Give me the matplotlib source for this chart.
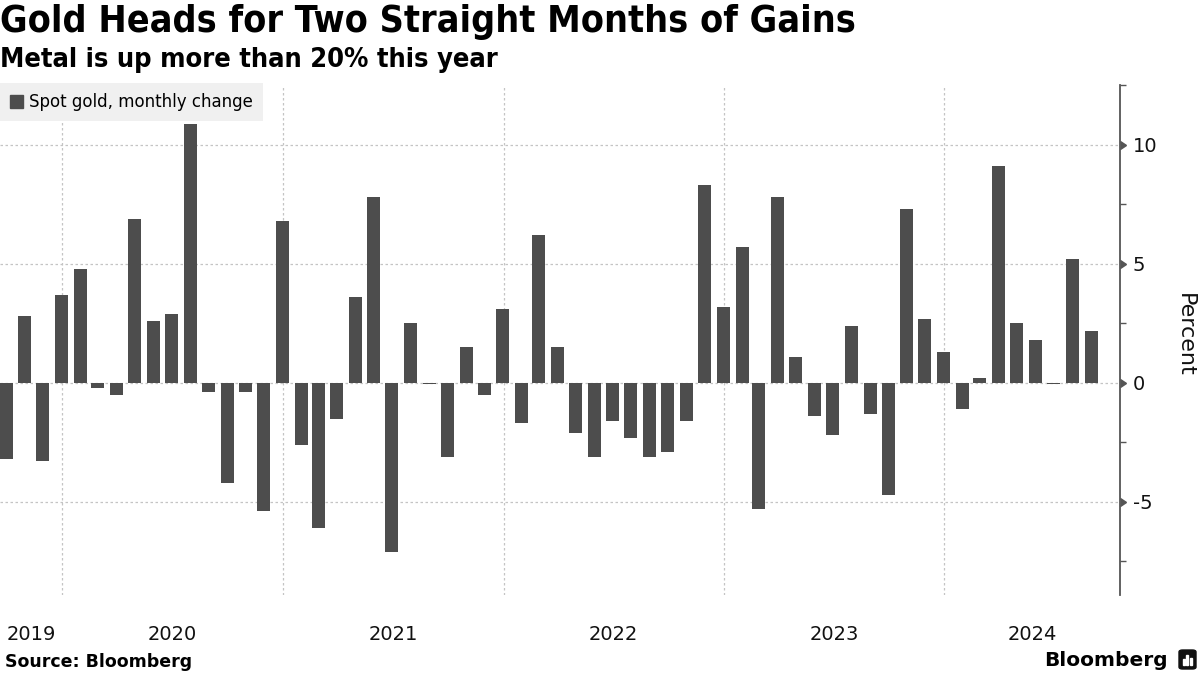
import numpy as np
import pandas as pd
import matplotlib
matplotlib.use("Agg")
import matplotlib.pyplot as plt
import matplotlib.dates as mdates
import matplotlib.transforms as mtransforms
from matplotlib.patches import Rectangle, FancyBboxPatch

# monthly change of spot gold, Sep 2019 .. Aug 2024 (percent)
months = pd.date_range("2019-09-30", "2024-08-31", freq="ME")
change = [
    -3.2, 2.8, -3.3, 3.7,
    4.8, -0.2, -0.5, 6.9, 2.6, 2.9, 10.9, -0.4, -4.2, -0.4, -5.4, 6.8,
    -2.6, -6.1, -1.5, 3.6, 7.8, -7.1, 2.5, -0.05, -3.1, 1.5, -0.5, 3.1,
    -1.7, 6.2, 1.5, -2.1, -3.1, -1.6, -2.3, -3.1, -2.9, -1.6, 8.3, 3.2,
    5.7, -5.3, 7.8, 1.1, -1.4, -2.2, 2.4, -1.3, -4.7, 7.3, 2.7, 1.3,
    -1.1, 0.2, 9.1, 2.5, 1.8, -0.03, 5.2, 2.2,
]
years = [2019, 2020, 2021, 2022, 2023, 2024]
yticks = [-5, 0, 5, 10]

bar_color = "#4d4d4d"
grid_color = "#c4c4c4"
axis_color = "#555555"

fig = plt.figure(figsize=(12, 6.75), dpi=100)
ax = fig.add_axes([0, 1 - 595 / 675, 1120 / 1200, 510 / 675])

x = mdates.date2num(months)
ax.bar(x, change, width=21.5, color=bar_color, zorder=2)

x0 = mdates.date2num(pd.Timestamp("2019-09-20"))
x1 = mdates.date2num(pd.Timestamp("2024-10-18"))
ax.set_xlim(x0, x1)
ax.set_ylim(-8.91, 12.52)

# grid
for y in yticks:
    ax.axhline(y, color=grid_color, lw=0.9, ls=(0, (2, 2)), zorder=1)
for yr in years[1:]:
    ax.axvline(mdates.date2num(pd.Timestamp(f"{yr}-01-01")), color=grid_color,
               lw=0.9, ls=(0, (2, 2)), zorder=1)

for s in ["top", "left", "bottom"]:
    ax.spines[s].set_visible(False)
ax.spines["right"].set_color(axis_color)
ax.spines["right"].set_linewidth(1.3)

ax.set_xticks([])
ax.yaxis.tick_right()
ax.set_yticks(yticks)
ax.set_yticklabels([str(t) for t in yticks])
ax.set_yticks([-7.5, -2.5, 2.5, 7.5, 12.5], minor=True)
ax.tick_params(axis="y", which="major", length=0, pad=9, labelsize=14, labelcolor="#111111")
ax.tick_params(axis="y", which="minor", length=4, width=1, color=axis_color, direction="out")

# caret tick marks on the spine
trans = mtransforms.blended_transform_factory(ax.transAxes, ax.transData)
ax.plot([1] * len(yticks), yticks, ls="none", marker=9, ms=6, color=axis_color,
        transform=trans, clip_on=False, zorder=3)

# year labels, centred on the visible part of each year
tx = mtransforms.blended_transform_factory(ax.transData, ax.transAxes)
for yr in years:
    a = max(mdates.date2num(pd.Timestamp(f"{yr}-01-01")), x0)
    b = min(mdates.date2num(pd.Timestamp(f"{yr + 1}-01-01")), x1)
    ax.text((a + b) / 2, -39 / 510, str(yr), transform=tx, ha="center", va="center",
            fontsize=14, color="#111111")

leg = ax.legend(handles=[Rectangle((0, 0), 1, 1, color=bar_color)],
                labels=["Spot gold, monthly change"], loc="upper left",
                bbox_to_anchor=(0, 1 + 2 / 510), frameon=True, facecolor="#f0f0f0",
                edgecolor="none", fancybox=False, framealpha=1, borderaxespad=0,
                handlelength=0.8, handleheight=0.8, handletextpad=0.35,
                borderpad=0.6, fontsize=12)
leg.set_zorder(5)

fig.text(1185 / 1200, 340 / 675, "Percent", rotation=270, ha="center", va="center",
         fontsize=16, color="#111111")

fig.text(0.0, 1 - 22 / 675, "Gold Heads for Two Straight Months of Gains",
         fontsize=27, fontweight="bold", fontstretch="condensed", ha="left", va="center")
fig.text(0.0, 1 - 60 / 675, "Metal is up more than 20% this year",
         fontsize=19.5, fontweight="bold", fontstretch="condensed", ha="left", va="center")
fig.text(5 / 1200, 1 - 662 / 675, "Source: Bloomberg", fontsize=12.5,
         fontweight="bold", ha="left", va="center")
fig.text(1168 / 1200, 1 - 660 / 675, "Bloomberg", fontsize=14.5, fontweight="bold",
         ha="right", va="center")

# small logo mark
fig.patches.append(FancyBboxPatch((1179 / 1200, 1 - 669 / 675), 17 / 1200, 19 / 675,
                                  boxstyle="round,pad=0,rounding_size=0.003",
                                  transform=fig.transFigure, color="#111111"))
for i, h in enumerate([6, 10, 7]):
    fig.patches.append(Rectangle(((1182.5 + 3.8 * i) / 1200, 1 - 665 / 675), 2 / 1200, h / 675,
                                 transform=fig.transFigure, color="white"))

fig.savefig("out.png", dpi=100)
